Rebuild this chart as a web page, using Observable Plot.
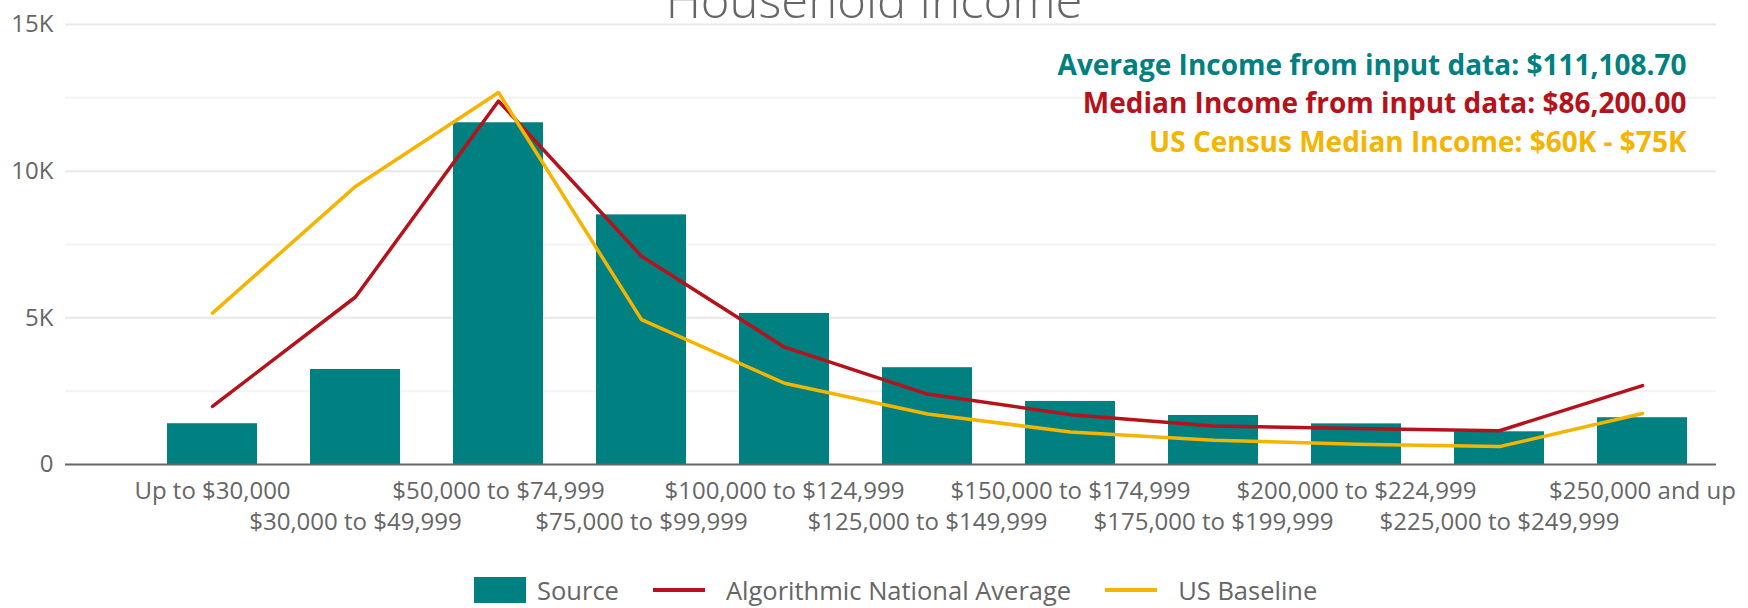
<!DOCTYPE html>
<html>
<head>
<meta charset="utf-8">
<script src="https://cdn.jsdelivr.net/npm/d3@7"></script>
<script src="https://cdn.jsdelivr.net/npm/@observablehq/plot@0.6"></script>
<style>
  html, body { margin: 0; padding: 0; background: #fff; }
  body { width: 1748px; height: 608px; overflow: hidden; font-family: "Open Sans", sans-serif; }
  #legend { position: relative; height: 48px; display: flex; align-items: center; padding-left: 474px; padding-top: 11px; box-sizing: border-box; color: #666; font-size: 25.5px; }
  #legend .item { display: flex; align-items: center; margin-right: 34px; }
  #legend .sw { width: 52px; height: 26px; margin-right: 11px; }
  #legend .ln { width: 52px; height: 4px; margin-right: 21px; }
</style>
</head>
<body>
<div id="chart"></div>
<div id="legend"></div>
<script>
const categories = ["Up to $30,000", "$30,000 to $49,999", "$50,000 to $74,999", "$75,000 to $99,999", "$100,000 to $124,999", "$125,000 to $149,999", "$150,000 to $174,999", "$175,000 to $199,999", "$200,000 to $224,999", "$225,000 to $249,999", "$250,000 and up"];
const sourceValues = [1390, 3240, 11650, 8510, 5150, 3300, 2150, 1670, 1385, 1115, 1595];
const nationalValues = [1980, 5710, 12390, 7100, 4000, 2400, 1700, 1310, 1230, 1150, 2690];
const baselineValues = [5160, 9480, 12680, 4940, 2770, 1720, 1110, 830, 690, 610, 1740];
const yTicks = [0, 5000, 10000, 15000];
const yMinorTicks = [2500, 7500, 12500];
const seriesNames = ["Source", "Algorithmic National Average", "US Baseline"];
const colors = ["#008080", "#b5121b", "#f4b400"];
const titleText = "Household Income";
const annotations = ["Average Income from input data: $111,108.70", "Median Income from input data: $86,200.00", "US Census Median Income: $60K - $75K"];

const data = categories.map((c, i) => ({category: c, source: sourceValues[i], national: nationalValues[i], baseline: baselineValues[i]}));
const row1 = categories.filter((d, i) => i % 2 === 0);
const row2 = categories.filter((d, i) => i % 2 === 1);

const chart = Plot.plot({
  width: 1748,
  height: 560,
  marginTop: 24,
  marginBottom: 96,
  marginLeft: 65,
  marginRight: 32,
  style: {fontFamily: "'Open Sans', sans-serif", background: "#fff", color: "#666", overflow: "visible"},
  x: {type: "band", domain: categories, range: [138, 1716], paddingInner: 0.37, paddingOuter: 0.185},
  y: {domain: [0, 15000]},
  marks: [
    Plot.ruleY(yMinorTicks, {stroke: "#f3f3f3", strokeWidth: 2}),
    Plot.ruleY(yTicks.filter(d => d > 0), {stroke: "#e8e8e8", strokeWidth: 2}),
    Plot.barY(data, {x: "category", y: "source", fill: colors[0]}),
    Plot.ruleY([0], {stroke: "#666", strokeWidth: 2}),
    Plot.lineY(data, {x: "category", y: "national", stroke: colors[1], strokeWidth: 3.5}),
    Plot.lineY(data, {x: "category", y: "baseline", stroke: colors[2], strokeWidth: 3.5}),
    Plot.axisY(yTicks, {tickSize: 0, tickPadding: 12, fontSize: 24, label: null, tickFormat: d => d === 0 ? "0" : d / 1000 + "K"}),
    Plot.axisX(row1, {tickSize: 0, tickPadding: 17, fontSize: 24, label: null}),
    Plot.axisX(row2, {tickSize: 0, tickPadding: 48, fontSize: 24, label: null}),
    Plot.text([titleText], {frameAnchor: "top", lineAnchor: "bottom", dy: -7, dx: -17, fontSize: 49, fontWeight: 300, fill: "#666"}),
    ...annotations.map((t, i) => Plot.text([t], {frameAnchor: "top-right", textAnchor: "end", lineAnchor: "bottom", dx: -30, dy: 50 + i * 38.5, fontSize: 28, fontWeight: "bold", fill: colors[i]}))
  ]
});
document.getElementById("chart").appendChild(chart);

const legend = document.getElementById("legend");
seriesNames.forEach((name, i) => {
  const item = document.createElement("div");
  item.className = "item";
  const sw = document.createElement("div");
  sw.className = i === 0 ? "sw" : "ln";
  sw.style.background = colors[i];
  const label = document.createElement("span");
  label.textContent = name;
  item.appendChild(sw);
  item.appendChild(label);
  legend.appendChild(item);
});
</script>
</body>
</html>
